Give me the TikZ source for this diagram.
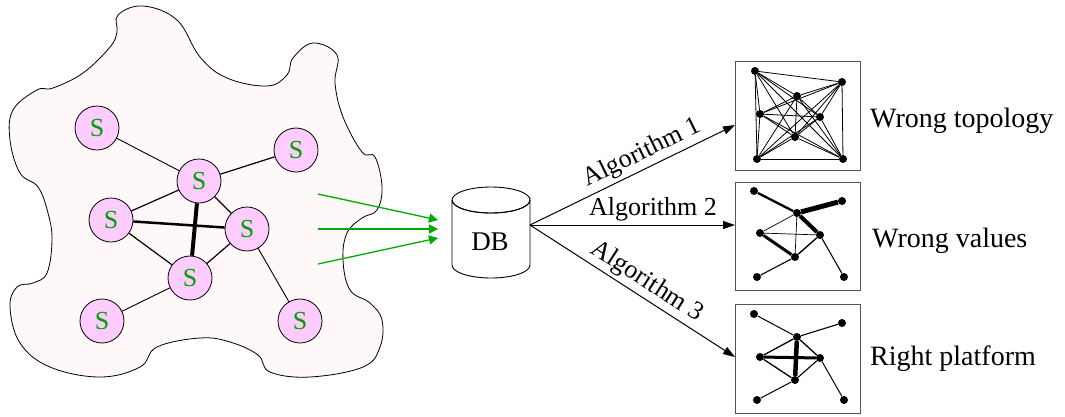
\documentclass[tikz,border=0pt]{standalone}
\usepackage{fontspec}
\setmainfont{Liberation Serif}
\usetikzlibrary{arrows.meta}
\definecolor{blobfill}{RGB}{255,248,248}
\definecolor{spink}{RGB}{255,204,255}
\definecolor{sgreen}{RGB}{0,160,0}
\definecolor{agreen}{RGB}{0,170,0}
\definecolor{boxgray}{RGB}{85,85,85}
\tikzset{
  snode/.style={circle, draw=black, line width=0.8pt, fill=spink, minimum size=44pt, inner sep=0pt,
    text=sgreen, font=\fontsize{26}{30}\selectfont},
  dot/.style={circle, fill=black, inner sep=0pt, minimum size=8pt},
  panel/.style={draw=boxgray, line width=1pt, minimum width=125pt, inner sep=0pt},
  lbl/.style={font=\fontsize{28}{32}\selectfont, anchor=base west, inner sep=0pt},
  alg/.style={font=\fontsize{26}{30}\selectfont, inner sep=3pt},
  garrow/.style={draw=agreen, line width=1.3pt, -{Triangle[length=9pt,width=9pt]}, color=agreen},
  barrow/.style={line width=1pt, -{Triangle[length=12pt,width=8pt]}},
}
\begin{document}
\begin{tikzpicture}[x=1pt,y=-1pt]
\useasboundingbox (0,0) rectangle (1065,416);
% blob
\draw[fill=blobfill, line width=0.8pt] plot[smooth cycle, tension=0.65] coordinates {
(118,15) (143,6) (177,20) (200,57) (227,78) (267,86) (287,75) (293,58) (313,43) (337,55) (335,83) (343,117) (362,152) (375,157) (382,187) (377,210) (362,218) (347,233) (343,260) (350,290) (370,303) (382,320) (380,347) (363,367) (310,377) (270,372) (258,355) (230,342) (200,338) (157,347) (140,367) (100,377) (50,367) (20,343) (10,307) (17,287) (33,283) (47,273) (52,240) (48,213) (38,187) (20,173) (10,140) (13,110) (37,90) (53,88) (83,73) (110,47) (117,32)};
% S nodes
\node[snode] (s1) at (97,128) {S};
\node[snode] (s2) at (296,150) {S};
\node[snode] (s3) at (199,181) {S};
\node[snode] (s4) at (111,220) {S};
\node[snode] (s5) at (247,229) {S};
\node[snode] (s6) at (190,278) {S};
\node[snode] (s7) at (102,321) {S};
\node[snode] (s8) at (300,321) {S};
\draw[line width=0.9pt] (s1) -- (s3);
\draw[line width=1.2pt] (s3) -- (s2);
\draw[line width=1.2pt] (s3) -- (s4);
\draw[line width=1.2pt] (s3) -- (s5);
\draw[line width=2.5pt] (s4) -- (s5);
\draw[line width=4pt] (s3) -- (s6);
\draw[line width=1.2pt] (s4) -- (s6);
\draw[line width=1.2pt] (s5) -- (s6);
\draw[line width=0.9pt] (s6) -- (s7);
\draw[line width=0.9pt] (s5) -- (s8);
% DB cylinder
\draw[line width=0.9pt, fill=white] (452,200) -- (452,265) arc[start angle=180, end angle=360, x radius=39, y radius=-13] -- (530,200) arc[start angle=0, end angle=360, x radius=39, y radius=13];
\draw[line width=0.9pt] (452,200) arc[start angle=180, end angle=360, x radius=39, y radius=-13];
\node[font=\fontsize{27}{30}\selectfont, inner sep=0pt] (db) at (490,242) {DB};
\coordinate (dbr) at (530,225);
% green arrows
\coordinate (g1) at (318,194);
\coordinate (g2) at (318,229);
\coordinate (g3) at (318,264);
\coordinate (gt1) at (438,220);
\coordinate (gt2) at (438,229);
\coordinate (gt3) at (438,238);
\draw[garrow] (g1) -- (gt1);
\draw[garrow] (g2) -- (gt2);
\draw[garrow] (g3) -- (gt3);
% panels
\node[panel, minimum height=109pt] (box1) at (797.5,115.5) {};
\node[panel, minimum height=108pt] (box2) at (797.5,236) {};
\node[panel, minimum height=109pt] (box3) at (797.5,358.5) {};
\coordinate (t1) at (735,125);
\coordinate (t2) at (735,225);
\coordinate (t3) at (735,357);
\draw[barrow] (dbr) -- node[alg, sloped, above, pos=0.58] {Algorithm 1} (t1);
\draw[barrow] (dbr) -- node[alg, above, pos=0.6] {Algorithm 2} (t2);
\draw[barrow] (dbr) -- node[alg, sloped, above, pos=0.53] {Algorithm 3} (t3);
% panel 1: complete graph
\node[dot] (pa) at (755,71) {};
\node[dot] (pb) at (842,82) {};
\node[dot] (pc) at (797,96) {};
\node[dot] (pd) at (760,114) {};
\node[dot] (pe) at (820,117) {};
\node[dot] (pf) at (795,137) {};
\node[dot] (pg) at (757,159) {};
\node[dot] (ph) at (843,159) {};
\foreach \u [count=\i] in {a,b,c,d,e,f,g,h}{
  \foreach \v [count=\j] in {a,b,c,d,e,f,g,h}{
    \ifnum\j>\i \draw[line width=0.8pt] (p\u) -- (p\v); \fi
  }
}
% panel 2
\node[dot] (qa) at (754,191) {};
\node[dot] (qb) at (842,201) {};
\node[dot] (qc) at (797,213) {};
\node[dot] (qd) at (760,233) {};
\node[dot] (qe) at (820,235) {};
\node[dot] (qf) at (795,257) {};
\node[dot] (qg) at (757,277) {};
\node[dot] (qh) at (844,277) {};
\draw[line width=2.3pt] (qa) -- (qc);
\draw[line width=5pt] (qc) -- (qb);
\draw[line width=4pt] (qc) -- (qe);
\draw[line width=3pt] (qd) -- (qf);
\draw[line width=0.7pt] (qc) -- (qd);
\draw[line width=0.7pt] (qc) -- (qf);
\draw[line width=0.7pt] (qd) -- (qe);
\draw[line width=1.4pt] (qe) -- (qf);
\draw[line width=1.1pt] (qf) -- (qg);
\draw[line width=1.1pt] (qe) -- (qh);
% panel 3
\node[dot] (ra) at (754,314) {};
\node[dot] (rb) at (842,323) {};
\node[dot] (rc) at (797,337) {};
\node[dot] (rd) at (760,357) {};
\node[dot] (re) at (820,358) {};
\node[dot] (rf) at (795,380) {};
\node[dot] (rg) at (757,400) {};
\node[dot] (rh) at (844,400) {};
\draw[line width=1pt] (ra) -- (rc);
\draw[line width=1.1pt] (rc) -- (rb);
\draw[line width=1.3pt] (rc) -- (rd);
\draw[line width=1.3pt] (rc) -- (re);
\draw[line width=3pt] (rd) -- (re);
\draw[line width=4.5pt] (rc) -- (rf);
\draw[line width=1.3pt] (rd) -- (rf);
\draw[line width=1.1pt] (re) -- (rf);
\draw[line width=1pt] (rf) -- (rg);
\draw[line width=1pt] (re) -- (rh);
% labels
\node[lbl] (l1) at (870,127) {Wrong topology};
\node[lbl] (l2) at (872,247) {Wrong values};
\node[lbl] (l3) at (870,365) {Right platform};
\end{tikzpicture}
\end{document}
